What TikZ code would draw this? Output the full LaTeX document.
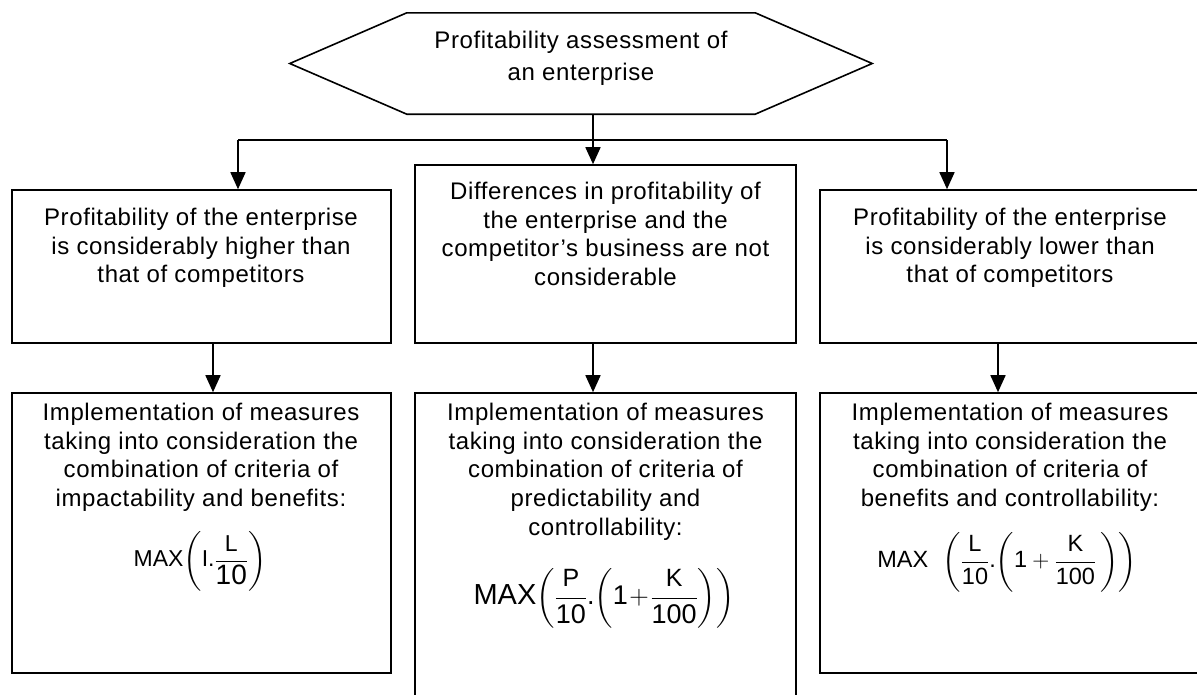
\documentclass[tikz,border=0pt]{standalone}
\usepackage{fix-cm}
\usepackage{amsmath}
\usepackage[no-math]{fontspec}
\setmainfont{Liberation Sans}[LetterSpace=2.5]
\newfontfamily\fml{Liberation Sans}
\usetikzlibrary{arrows.meta}
\newcommand\Ts[2]{\mbox{\fontsize{#1}{#1}\selectfont\fml #2}}
\newcommand\pstrut[2]{\rule[-#2]{0pt}{#1}}
\tikzset{
  line/.style={line width=1.6pt},
  arr/.style={line width=1.6pt,-{Triangle[length=17pt,width=15pt]}},
  boxnode/.style={draw,line width=1.6pt,inner sep=0pt},
  txt/.style={align=center,inner sep=0pt,anchor=north,font=\fontsize{24}{28.7}\selectfont},
  fmla/.style={inner sep=0pt}
}
\begin{document}
\begin{tikzpicture}[x=1pt,y=-1pt]
\useasboundingbox (0,0) rectangle (1197,694);
\clip (0,0) rectangle (1197,694);
% hexagon
\node[inner sep=0pt,minimum width=348pt,minimum height=101pt] (hex) at (581,63.5) {};
\draw[line,line join=miter] (hex.north west) -- (hex.north east) -- ([xshift=117pt]hex.east) -- (hex.south east) -- (hex.south west) -- ([xshift=-117pt]hex.west) -- cycle;
\node[txt,font=\fontsize{24}{32}\selectfont] (hext) at (581,31) {Profitability assessment of\\an enterprise};
% boxes row 1
\node[boxnode,minimum width=379pt,minimum height=153pt] (L1) at (201.5,266.5) {};
\node[boxnode,minimum width=381pt,minimum height=178pt] (M1) at (605.5,254) {};
\node[boxnode,minimum width=395pt,minimum height=153pt] (R1) at (1017.5,266.5) {};
% boxes row 2
\node[boxnode,minimum width=379pt,minimum height=280pt] (L2) at (201.5,533) {};
\node[boxnode,minimum width=381pt,minimum height=327pt] (M2) at (605.5,556.5) {};
\node[boxnode,minimum width=395pt,minimum height=280pt] (R2) at (1017.5,533) {};
% texts row 1
\node[txt] (t1) at (201,208) {Profitability of the enterprise\\is considerably higher than\\that of competitors};
\node[txt] (t2) at (605.5,182) {Differences in profitability of\\the enterprise and the\\competitor’s business are not\\considerable};
\node[txt] (t3) at (1010,208) {Profitability of the enterprise\\is considerably lower than\\that of competitors};
% texts row 2
\node[txt] (b1) at (201,403) {Implementation of measures\\taking into consideration the\\combination of criteria of\\impactability and benefits:};
\node[txt] (b2) at (605.5,403) {Implementation of measures\\taking into consideration the\\combination of criteria of\\predictability and\\controllability:};
\node[txt] (b3) at (1010,403) {Implementation of measures\\taking into consideration the\\combination of criteria of\\benefits and controllability:};
% formulas
\node[fmla,font=\fontsize{23}{27}\selectfont] (f1) at (200,561) {$\displaystyle \Ts{23}{MAX}{\left(\pstrut{62pt}{25.25pt}\Ts{23}{I.}{\dfrac{\Ts{23}{L}}{\Ts{28}{10}}}\right)}$};
\node[fmla,font=\fontsize{27}{32}\selectfont] (f2) at (604,598) {$\displaystyle \Ts{29}{MAX}{\left(\pstrut{60pt}{23.25pt}{\dfrac{\Ts{25}{P}}{\Ts{27}{10}}}\Ts{27}{.}{\left(\pstrut{52pt}{19.25pt}\Ts{27}{1}\mkern1mu{+}\mkern1mu{\dfrac{\Ts{25}{K}}{\Ts{27}{100}}}\right)}\right)}$};
\node[fmla,font=\fontsize{23.5}{27}\selectfont] (f3) at (1007,562) {$\displaystyle \Ts{23.5}{MAX}\ \ {\left(\pstrut{56pt}{22pt}{\dfrac{\Ts{23.5}{L}}{\Ts{23.5}{10}}}\Ts{23.5}{.}{\left(\pstrut{50pt}{19.5pt}\Ts{23.5}{1}+{\dfrac{\Ts{23.5}{K}}{\Ts{23.5}{100}}}\,\right)}\right)}$};
% connectors
\coordinate (jl) at (238,140);
\coordinate (jm) at (593,140);
\coordinate (jr) at (947,140);
\coordinate (al) at (213,0);
\coordinate (am) at (593,0);
\coordinate (ar) at (998,0);
\draw[line] (jl) -- (jr);
\draw[line] (hex.south -| jm) -- (jm);
\draw[arr] (jm) -- (jm |- M1.north);
\draw[arr] (jl) -- (jl |- L1.north);
\draw[arr] (jr) -- (jr |- R1.north);
\draw[arr] (al |- L1.south) -- (al |- L2.north);
\draw[arr] (am |- M1.south) -- (am |- M2.north);
\draw[arr] (ar |- R1.south) -- (ar |- R2.north);
\end{tikzpicture}
\end{document}
